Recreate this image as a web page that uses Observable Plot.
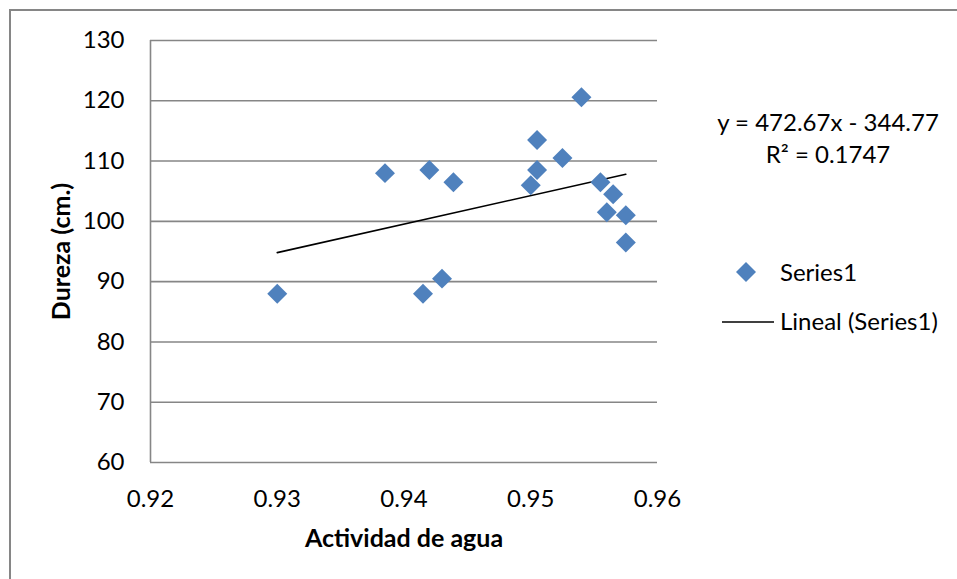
<!DOCTYPE html>
<html>
<head>
<meta charset="utf-8">
<script src="https://cdn.jsdelivr.net/npm/d3@7"></script>
<script src="https://cdn.jsdelivr.net/npm/@observablehq/plot@0.6"></script>
<style>
  html, body { margin: 0; padding: 0; background: #fff; }
  #chart { position: relative; width: 957px; height: 579px; overflow: hidden; }
</style>
</head>
<body>
<div id="chart"></div>
<script>
// Data
const actividad = [0.930, 0.9385, 0.9415, 0.942, 0.943, 0.9439, 0.950, 0.9505, 0.9505, 0.9525, 0.954, 0.9555, 0.956, 0.9565, 0.9575, 0.9575];
const dureza    = [88, 108, 88, 108.5, 90.5, 106.5, 106, 113.5, 108.5, 110.5, 120.6, 106.5, 101.5, 104.5, 101, 96.5];
const xTicks = [0.92, 0.93, 0.94, 0.95, 0.96];
const yTicks = [60, 70, 80, 90, 100, 110, 120, 130];
const slope = 472.67, intercept = -344.77;
const equationText = "y = 472.67x - 344.77";
const r2Label = "R² = 0.1747";
const seriesName = "Series1";
const trendName = "Lineal (Series1)";
const xTitle = "Actividad de agua";
const yTitle = "Dureza (cm.)";

const points = actividad.map((x, i) => ({x, y: dureza[i]}));
const xMin = d3.min(actividad), xMax = d3.max(actividad);
const trend = [xMin, xMax].map(x => ({x, y: slope * x + intercept}));

const W = 957, H = 579;
const blue = "#4F81BD", grid = "#868686";
const font = "Lato, 'Open Sans', sans-serif";

const chart = Plot.plot({
  width: W, height: H,
  marginLeft: 150, marginRight: 300, marginTop: 40, marginBottom: 117,
  style: {fontFamily: font, fontSize: "24px", color: "#000", background: "#fff", overflow: "visible"},
  x: {domain: [0.92, 0.96]},
  y: {domain: [60, 130]},
  marks: [
    Plot.gridY(yTicks, {stroke: grid, strokeOpacity: 1, strokeWidth: 1.6}),
    Plot.ruleX([0.92], {stroke: grid, strokeWidth: 1.6}),
    Plot.axisY(yTicks, {tickSize: 0, tickPadding: 26, label: null, fill: "#000"}),
    Plot.axisX(xTicks, {tickSize: 0, tickPadding: 27, label: null, tickFormat: d => d.toFixed(2), fill: "#000"}),
    Plot.line(trend, {x: "x", y: "y", stroke: "#000", strokeWidth: 1.6}),
    Plot.dot(points, {x: "x", y: "y", symbol: "diamond2", r: 9, fill: blue, stroke: "none"}),
    Plot.text([xTitle], {frameAnchor: "bottom", dy: 76, text: d => d, fontWeight: "bold", fontSize: 25, textAnchor: "middle", lineAnchor: "middle"}),
    Plot.text([yTitle], {frameAnchor: "left", dx: -89, text: d => d, fontWeight: "bold", fontSize: 25, rotate: -90, textAnchor: "middle", lineAnchor: "middle"})
  ]
});

document.getElementById("chart").appendChild(chart);

// Chart-area border, equation and legend
const svg = d3.select(chart);
const g = svg.append("g").attr("font-family", font).attr("font-size", 24).attr("fill", "#000").attr("text-anchor", "start");
g.append("line").attr("x1", 9).attr("x2", W).attr("y1", 10).attr("y2", 10).attr("stroke", grid).attr("stroke-width", 2);
g.append("line").attr("x1", 10).attr("x2", 10).attr("y1", 9).attr("y2", H).attr("stroke", grid).attr("stroke-width", 2);

g.append("text").attr("x", 828).attr("y", 131).attr("text-anchor", "middle").text(equationText);
g.append("text").attr("x", 828).attr("y", 163).attr("text-anchor", "middle").text(r2Label);

g.append("path").attr("d", "M746,262L756,272L746,282L736,272Z").attr("fill", blue);
g.append("text").attr("x", 780).attr("y", 281).attr("text-anchor", "start").text(seriesName);
g.append("line").attr("x1", 722).attr("x2", 774).attr("y1", 322).attr("y2", 322).attr("stroke", "#000").attr("stroke-width", 1.6);
g.append("text").attr("x", 780).attr("y", 330).attr("text-anchor", "start").text(trendName);
</script>
</body>
</html>
